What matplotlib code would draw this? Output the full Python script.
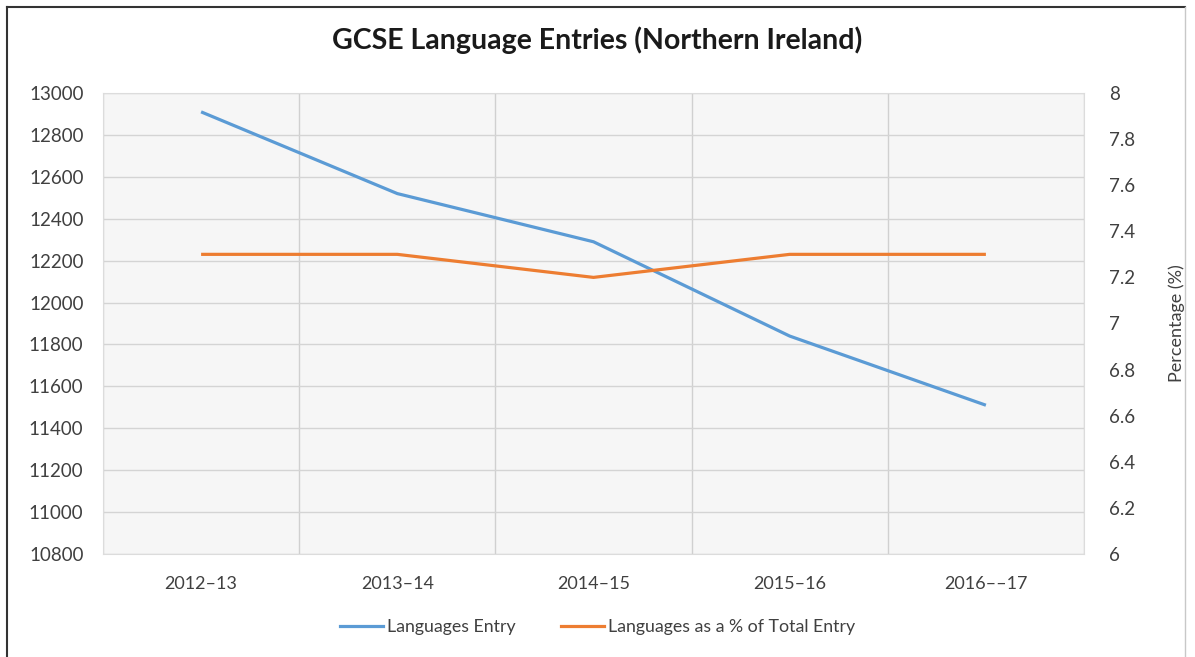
import numpy as np
import matplotlib.pyplot as plt
from matplotlib.lines import Line2D

# Dades llegides del gràfic
years = ['2012\u201313', '2013\u201314', '2014\u201315', '2015\u201316', '2016\u2013\u201317']
entries = [12910, 12520, 12290, 11840, 11510]
pct_total = [7.3, 7.3, 7.2, 7.3, 7.3]

left_ticks = np.arange(10800, 13001, 200)
right_ticks = np.round(np.arange(6.0, 8.01, 0.2), 1)

blue = '#5B9BD5'
orange = '#ED7D31'
txt_col = '#404040'

plt.rcParams['font.family'] = ['Lato', 'DejaVu Sans']

W, H = 1195, 657
fig = plt.figure(figsize=(W / 100, H / 100), dpi=100)
ax = fig.add_axes([103 / W, 1 - 554 / H, (1084 - 103) / W, (554 - 93) / H])
ax.set_facecolor('#f6f6f6')

x = np.arange(len(years))
ax.plot(x, entries, color=blue, lw=2.3, solid_capstyle='butt', zorder=3)
ax.set_xlim(-0.5, len(years) - 0.5)
ax.set_ylim(left_ticks[0], left_ticks[-1])
ax.set_yticks(left_ticks)
ax.set_xticks(x)
ax.set_xticklabels(years)
ax.set_xticks(np.arange(-0.5, len(years)), minor=True)
ax.grid(True, axis='y', color='#d4d4d4', lw=1.0)
ax.grid(True, axis='x', which='minor', color='#d0d0d0', lw=1.0)
ax.tick_params(axis='both', which='both', length=0)
ax.tick_params(axis='y', pad=14, labelsize=13.5, labelcolor=txt_col)
ax.tick_params(axis='x', pad=16, labelsize=13, labelcolor=txt_col)
for s in ax.spines.values():
    s.set_color('#dcdcdc')

ax2 = ax.twinx()
ax2.plot(x, pct_total, color=orange, lw=2.3, solid_capstyle='butt', zorder=3)
ax2.set_ylim(6, 8)
ax2.set_yticks(right_ticks)
ax2.set_yticklabels([f'{v:g}' for v in right_ticks])
ax2.tick_params(axis='y', length=0, pad=18, labelsize=13.5, labelcolor=txt_col)
for s in ax2.spines.values():
    s.set_visible(False)
ax2.set_ylabel('Percentage (%)', fontsize=13, color=txt_col, labelpad=24)

fig.text(0.5, 1 - 40 / H, 'GCSE Language Entries (Northern Ireland)',
         ha='center', va='center', fontsize=20.5, fontweight='bold', color='#1a1a1a')

handles = [Line2D([], [], color=blue, lw=2.3),
           Line2D([], [], color=orange, lw=2.3)]
fig.legend(handles, ['Languages Entry', 'Languages as a % of Total Entry'],
           loc='center', bbox_to_anchor=(0.5, 1 - 627 / H), ncol=2, frameon=False,
           fontsize=12.8, handlelength=2.4, handletextpad=0.2, columnspacing=2.6,
           labelcolor=txt_col)

# marc exterior
fig.add_artist(Line2D([7 / W, 7 / W], [0, 1 - 7 / H], color='#333333', lw=1.5))
fig.add_artist(Line2D([7 / W, 1185 / W], [1 - 7 / H, 1 - 7 / H], color='#333333', lw=1.5))
fig.add_artist(Line2D([1185 / W, 1185 / W], [0, 1 - 7 / H], color='#c8c8c8', lw=1.0))

fig.savefig('out.png', dpi=100)
